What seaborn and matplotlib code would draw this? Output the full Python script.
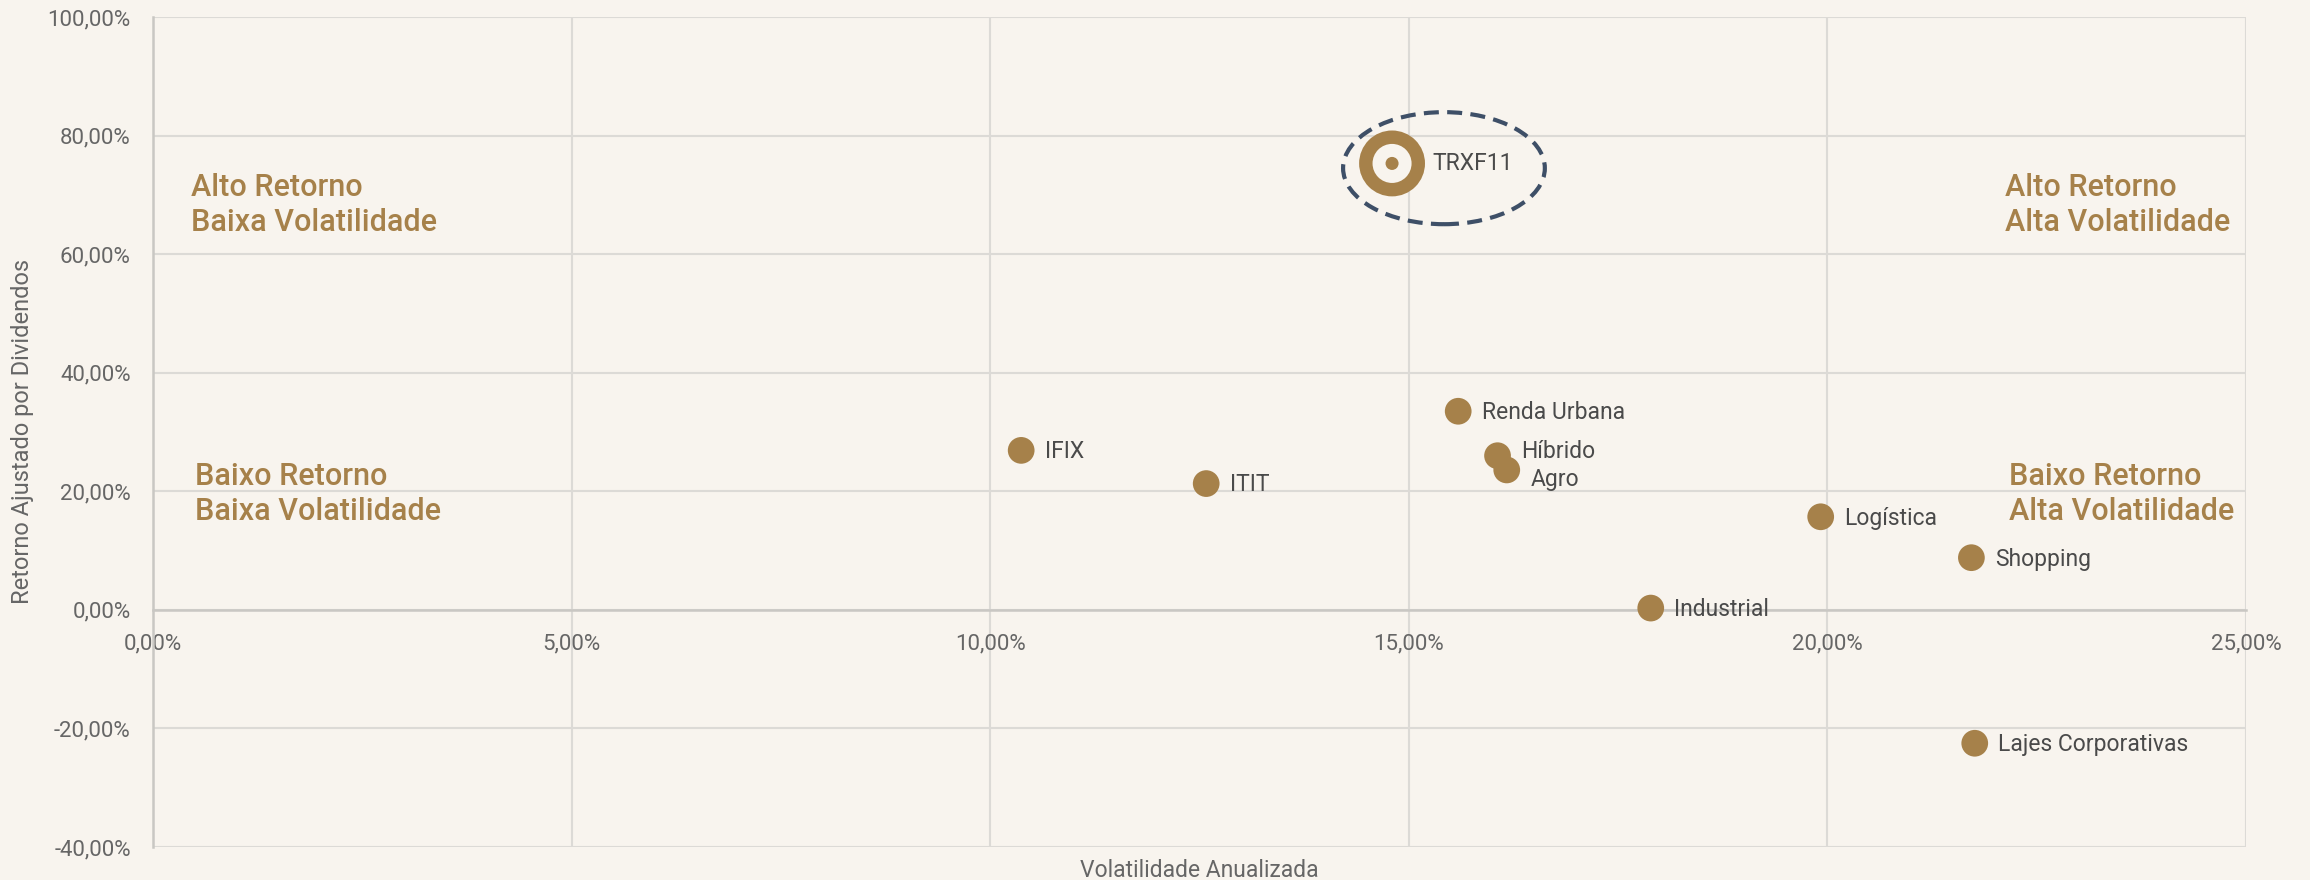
import matplotlib
matplotlib.use("Agg")
import matplotlib.pyplot as plt
import seaborn as sns
import pandas as pd
from matplotlib.patches import Ellipse
from matplotlib.ticker import FuncFormatter, MultipleLocator

# ---- data ----
names = ["IFIX", "ITIT", "Renda Urbana", "Híbrido", "Agro", "Industrial",
         "Logística", "Shopping", "Lajes Corporativas"]
volatility = [10.37, 12.58, 15.59, 16.06, 16.17, 17.89, 19.92, 21.72, 21.76]
returns = [26.9, 21.3, 33.5, 26.0, 23.6, 0.3, 15.7, 8.8, -22.5]

highlight_name = "TRXF11"
highlight_vol = 14.80
highlight_ret = 75.3

quadrant_labels = ["Alto Retorno\nBaixa Volatilidade", "Alto Retorno\nAlta Volatilidade",
                   "Baixo Retorno\nBaixa Volatilidade", "Baixo Retorno\nAlta Volatilidade"]
x_title = "Volatilidade Anualizada"
y_title = "Retorno Ajustado por Dividendos"

# ---- style ----
BG = "#F8F4EE"
GOLD = "#A6814A"
GRID = "#DCDAD6"
TXT = "#4A4A4A"
TICK = "#666666"
NAVY = "#3E4F67"

sns.set_theme(style="whitegrid")
plt.rcParams["font.family"] = ["Roboto", "DejaVu Sans"]

df = pd.DataFrame({"name": names, "vol": volatility, "ret": returns})

fig = plt.figure(figsize=(23.1, 8.8), dpi=100, facecolor=BG)
ax = fig.add_axes([153 / 2310, 1 - 847 / 880, (2246 - 153) / 2310, (847 - 17) / 880])
ax.set_facecolor(BG)

sns.scatterplot(data=df, x="vol", y="ret", ax=ax, color=GOLD, s=370,
                edgecolor="none", zorder=4, legend=False)

# highlighted fund: ring marker
ax.scatter([highlight_vol], [highlight_ret], s=2250, color=GOLD, edgecolor="none", zorder=5)
ax.scatter([highlight_vol], [highlight_ret], s=790, color=BG, edgecolor="none", zorder=6)
ax.scatter([highlight_vol], [highlight_ret], s=88, color=GOLD, edgecolor="none", zorder=7)
ax.annotate(highlight_name, (highlight_vol, highlight_ret), xytext=(29, 0),
            textcoords="offset points", ha="left", va="center", fontsize=16.5, color=TXT, zorder=8)
ell = Ellipse((highlight_vol + 0.62, highlight_ret - 0.8), width=2.41, height=18.9,
              fill=False, edgecolor=NAVY, linewidth=3.0, linestyle=(0, (3.6, 2.0)), zorder=8)
ax.add_patch(ell)

# point labels
nudge = {"Híbrido": 4, "Agro": -6}
for n, xv, yv in zip(names, volatility, returns):
    ax.annotate(n, (xv, yv), xytext=(17, nudge.get(n, 0) - 1), textcoords="offset points",
                ha="left", va="center", fontsize=16.5, color=TXT, zorder=8)

# quadrant labels
qpos = [(0.45, 73.7), (22.12, 73.7), (0.5, 25.0), (22.17, 25.0)]
for lab, (qx, qy) in zip(quadrant_labels, qpos):
    ax.text(qx, qy, lab, ha="left", va="top", fontsize=22, fontweight="medium",
            color=GOLD, linespacing=1.27, zorder=3)

# axes
ax.set_xlim(0, 25)
ax.set_ylim(-40, 100)
ax.xaxis.set_major_locator(MultipleLocator(5))
ax.yaxis.set_major_locator(MultipleLocator(20))
fmt = FuncFormatter(lambda v, p: f"{v:.2f}".replace(".", ",") + "%")
ax.xaxis.set_major_formatter(fmt)
ax.yaxis.set_major_formatter(fmt)
ax.grid(True, color=GRID, linewidth=1.5, zorder=0)
ax.set_axisbelow(True)
for s in ["top", "right"]:
    ax.spines[s].set_visible(False)
ax.spines["bottom"].set_position(("data", 0))
ax.spines["bottom"].set_color("#C9C7C3")
ax.spines["bottom"].set_linewidth(1.8)
ax.spines["left"].set_color("#C9C7C3")
ax.spines["left"].set_linewidth(1.8)
ax.tick_params(axis="both", length=0, labelsize=16, labelcolor=TICK)
ax.tick_params(axis="y", pad=16)
ax.tick_params(axis="x", pad=17)

ax.set_xlabel(x_title, fontsize=16.5, color=TICK)
ax.set_ylabel(y_title, fontsize=17, color=TICK)
ax.xaxis.set_label_coords(0.5, -0.014)
ax.yaxis.set_label_coords(-0.057, 0.5)

fig.savefig("out.png", dpi=100, facecolor=BG)
